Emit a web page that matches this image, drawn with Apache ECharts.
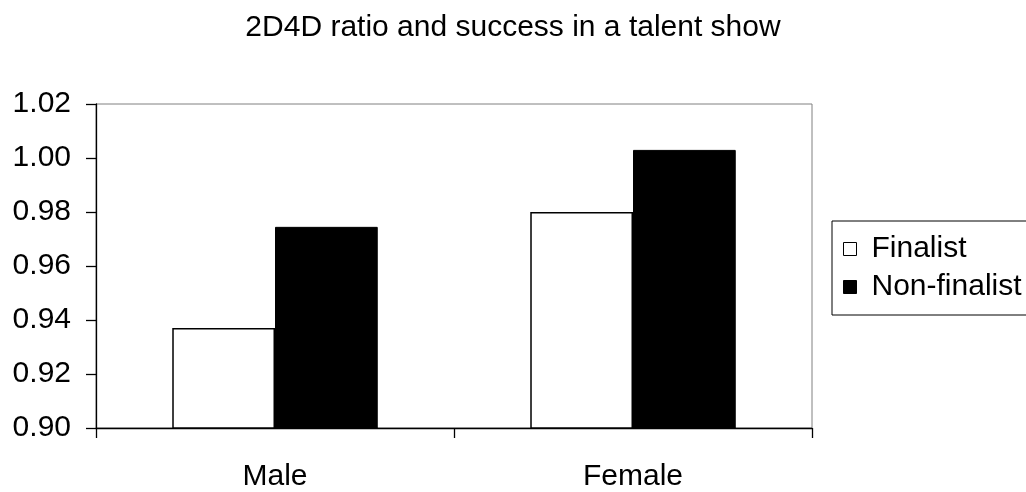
<!DOCTYPE html>
<html>
<head>
<meta charset="utf-8">
<script src="https://cdn.jsdelivr.net/npm/echarts@6/dist/echarts.min.js"></script>
<style>
html,body{margin:0;padding:0;background:#fff;}
#chart{width:1026px;height:492px;}
</style>
</head>
<body>
<div id="chart"></div>
<script>
const titleText = '2D4D ratio and success in a talent show';
const categories = ['Male', 'Female'];
const seriesNames = ['Finalist', 'Non-finalist'];
const finalistValues = [0.937, 0.980];
const nonFinalistValues = [0.9745, 1.003];
const yMin = 0.90, yMax = 1.02, yStep = 0.02;

const FONT = '"Liberation Sans", Arial, sans-serif';
const chart = echarts.init(document.getElementById('chart'), null, {renderer: 'canvas'});
chart.setOption({
  animation: false,
  backgroundColor: '#ffffff',
  title: {
    text: titleText,
    left: 'center',
    top: 8,
    textStyle: {fontFamily: FONT, fontSize: 30, fontWeight: 'normal', color: '#000'}
  },
  legend: {
    orient: 'vertical',
    left: 832,
    top: 221,
    padding: [13, 30, 13, 11],
    itemGap: 8,
    itemWidth: 13,
    itemHeight: 13,
    borderColor: '#000',
    borderWidth: 1,
    textStyle: {fontFamily: FONT, fontSize: 30, color: '#000', padding: [0, 0, 0, 10]},
    data: [
      {name: seriesNames[0], icon: 'rect', itemStyle: {color: '#fff', borderColor: '#000', borderWidth: 1}},
      {name: seriesNames[1], icon: 'rect', itemStyle: {color: '#000', borderColor: '#000', borderWidth: 1}}
    ]
  },
  grid: {
    left: 96, right: 214, top: 104, bottom: 60,
    show: true, borderColor: '#808080', borderWidth: 1, backgroundColor: '#fff'
  },
  xAxis: {
    type: 'category',
    data: categories,
    boundaryGap: true,
    axisLine: {lineStyle: {color: '#000', width: 1.3}},
    axisTick: {show: true, alignWithLabel: false, length: 10, lineStyle: {color: '#000', width: 1.3}},
    axisLabel: {fontFamily: FONT, fontSize: 30, color: '#000', margin: 34}
  },
  yAxis: {
    type: 'value',
    min: yMin, max: yMax, interval: yStep,
    splitLine: {show: false},
    axisLine: {show: true, lineStyle: {color: '#000', width: 1.3}},
    axisTick: {show: true, length: 10, lineStyle: {color: '#000', width: 1.3}},
    axisLabel: {fontFamily: FONT, fontSize: 30, color: '#000', margin: 25,
      formatter: v => v.toFixed(2)}
  },
  series: [
    {
      name: seriesNames[0], type: 'bar', data: finalistValues,
      barGap: '0%', barCategoryGap: '42.6%',
      itemStyle: {color: '#fff', borderColor: '#000', borderWidth: 1.5}
    },
    {
      name: seriesNames[1], type: 'bar', data: nonFinalistValues,
      barGap: '0%', barCategoryGap: '42.6%',
      itemStyle: {color: '#000', borderColor: '#000', borderWidth: 1}
    }
  ]
});
</script>
</body>
</html>
